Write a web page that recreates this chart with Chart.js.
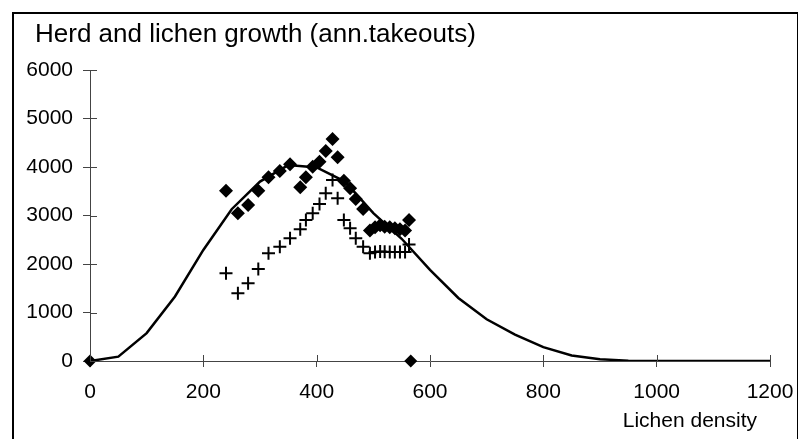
<!DOCTYPE html>
<html>
<head>
<meta charset="utf-8">
<script src="https://cdn.jsdelivr.net/npm/chart.js@4.4.0/dist/chart.umd.min.js"></script>
<style>
  html, body { margin: 0; padding: 0; background: #fff; overflow: hidden; }
  #wrap { position: relative; width: 798px; height: 439px; }
  #frame { position: absolute; left: 12px; top: 12px; width: 783px; height: 440px;
           border: 2px solid #000; pointer-events: none; }
</style>
</head>
<body>
<div id="wrap">
  <canvas id="herdChart" width="798" height="439"></canvas>
  <div id="frame"></div>
</div>
<script>
// model curve (lichen density -> annual takeouts)
const curveX = [0, 50, 100, 150, 200, 250, 300, 350, 400, 450, 500, 550, 600,
  650, 700, 750, 800, 850, 900, 950, 1000, 1050, 1100, 1150, 1200];
const curveY = [0, 90, 575, 1330, 2290, 3130, 3700, 4040, 3990, 3700, 3050, 2520, 1880,
  1300, 860, 545, 285, 115, 38, 5, 0, 0, 0, 0, 0];

// simulated years
const yearX = [240, 261, 279, 297, 315, 335, 353, 371, 381, 393, 405, 416, 428, 437,
  448, 459, 469, 482, 494, 503, 512, 520, 529, 538, 547, 556, 563];
const herdY = [3510, 3045, 3216, 3511, 3787, 3918, 4055, 3581, 3787, 4007, 4110, 4330, 4577, 4199,
  3718, 3560, 3340, 3134, 2690, 2760, 2800, 2770, 2756, 2735, 2715, 2690, 2907];
const lichenY = [1808, 1395, 1601, 1897, 2220, 2357, 2530, 2715, 2907, 3045, 3237, 3457, 3732, 3354,
  2907, 2735, 2530, 2357, 2220, 2250, 2260, 2255, 2250, 2250, 2250, 2250, 2400];

// equilibrium points on the axis
const eqX = [0, 566];
const eqY = [0, 0];

const xTicks = [0, 200, 400, 600, 800, 1000, 1200];
const yTicks = [0, 1000, 2000, 3000, 4000, 5000, 6000];

const titleText = 'Herd and lichen growth (ann.takeouts)';
const xTitle = 'Lichen density';

const pts = (xs, ys) => xs.map((x, i) => ({ x: x, y: ys[i] }));
const FONT = 'Liberation Sans, Arial, sans-serif';

// ticks that cross the axis, the chart title and the axis label
const decorations = {
  id: 'decorations',
  afterDraw(chart) {
    const c = chart.ctx, xs = chart.scales.x, ys = chart.scales.y;
    c.save();
    c.strokeStyle = '#444';
    c.lineWidth = 1;
    c.beginPath();
    xTicks.forEach(v => {
      const px = Math.round(xs.getPixelForValue(v)) + 0.5;
      c.moveTo(px, ys.bottom - 6);
      c.lineTo(px, ys.bottom);
    });
    yTicks.forEach(v => {
      const py = Math.round(ys.getPixelForValue(v)) + 0.5;
      c.moveTo(xs.left, py);
      c.lineTo(xs.left + 7, py);
    });
    c.stroke();
    c.fillStyle = '#000';
    c.textBaseline = 'middle';
    c.textAlign = 'left';
    c.font = '26px ' + FONT;
    c.fillText(titleText, 35, 35);
    c.textAlign = 'right';
    c.font = '21px ' + FONT;
    c.fillText(xTitle, xs.right - 13, 421);
    c.restore();
  }
};

const ctx = document.getElementById('herdChart').getContext('2d');
new Chart(ctx, {
  type: 'scatter',
  data: {
    datasets: [
      {
        label: 'Model',
        type: 'line',
        data: pts(curveX, curveY),
        borderColor: '#000',
        borderWidth: 2.5,
        pointRadius: 0,
        fill: false,
        tension: 0,
        order: 3
      },
      {
        label: 'Lichen',
        data: pts(yearX, lichenY),
        pointStyle: 'cross',
        pointRadius: 6.5,
        borderColor: '#000',
        borderWidth: 2,
        order: 2
      },
      {
        label: 'Herd',
        data: pts(yearX, herdY),
        pointStyle: 'rectRot',
        pointRadius: 7,
        backgroundColor: '#000',
        borderColor: '#000',
        borderWidth: 0,
        order: 1
      },
      {
        label: 'Equilibrium',
        data: pts(eqX, eqY),
        pointStyle: 'rectRot',
        pointRadius: 6.5,
        backgroundColor: '#000',
        borderColor: '#000',
        borderWidth: 0,
        clip: false,
        order: 0
      }
    ]
  },
  options: {
    responsive: false,
    animation: false,
    layout: { padding: { left: 14, right: 28, top: 70, bottom: 0 } },
    plugins: {
      legend: { display: false },
      tooltip: { enabled: false },
      title: { display: false }
    },
    scales: {
      x: {
        type: 'linear',
        min: 0,
        max: 1200,
        afterFit(scale) {
          scale.height = 78;
          scale.paddingLeft = 0;
          scale.paddingRight = 0;
        },
        afterBuildTicks(scale) { scale.ticks = xTicks.map(v => ({ value: v })); },
        grid: { display: true, drawOnChartArea: false, drawTicks: true, tickLength: 6, color: '#444' },
        border: { display: true, color: '#444', width: 1 },
        ticks: { color: '#000', padding: 13, maxRotation: 0, callback: v => String(v),
                 font: { family: FONT, size: 21 } }
      },
      y: {
        type: 'linear',
        min: 0,
        max: 6000,
        afterFit(scale) { scale.width = 76; },
        afterBuildTicks(scale) { scale.ticks = yTicks.map(v => ({ value: v })); },
        grid: { display: true, drawOnChartArea: false, drawTicks: true, tickLength: 7, color: '#444' },
        border: { display: true, color: '#444', width: 1 },
        ticks: { color: '#000', padding: 10, callback: v => String(v),
                 font: { family: FONT, size: 21 } }
      }
    }
  },
  plugins: [decorations]
});
</script>
</body>
</html>
